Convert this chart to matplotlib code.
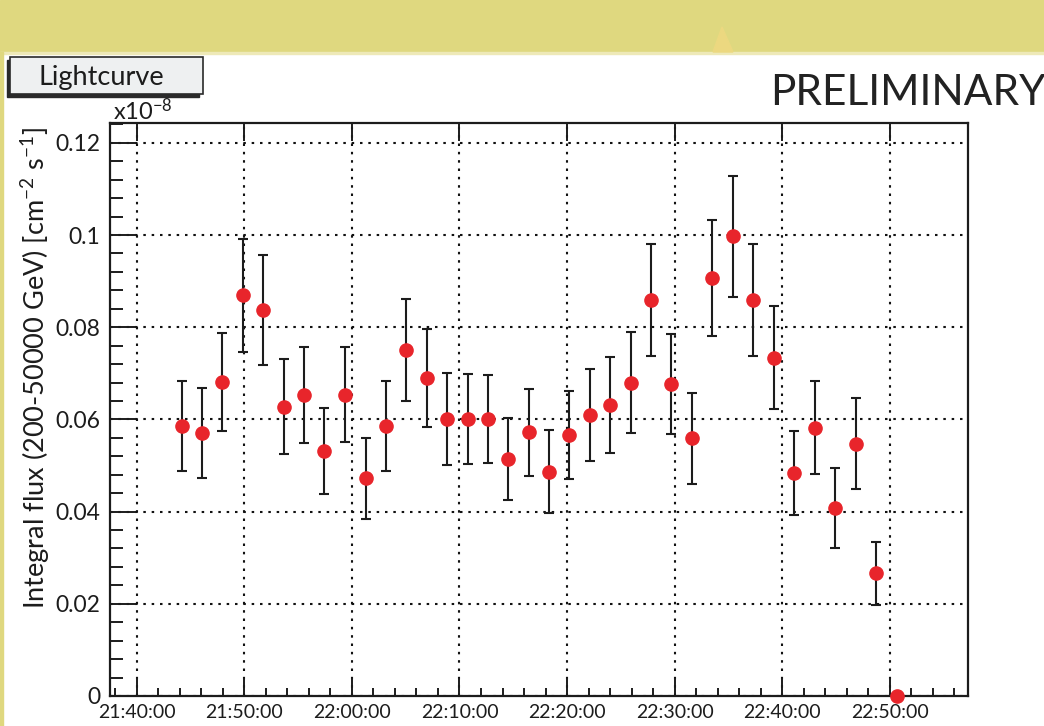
import datetime as dt
import matplotlib
matplotlib.use("Agg")
import matplotlib.pyplot as plt
import matplotlib.dates as mdates
from matplotlib.patches import Rectangle, Polygon
from matplotlib.ticker import MultipleLocator, FuncFormatter

plt.rcParams['font.family'] = ['Lato', 'DejaVu Sans']
plt.rcParams['mathtext.fontset'] = 'custom'
plt.rcParams['mathtext.rm'] = 'Lato'
plt.rcParams['mathtext.it'] = 'Lato:italic'

# observation night (date itself not shown on the chart)
DAY = "2014-01-01"

times = ["21:44:11", "21:46:06", "21:47:57", "21:49:54", "21:51:46", "21:53:40",
         "21:55:33", "21:57:26", "21:59:22", "22:01:17", "22:03:10", "22:05:02",
         "22:06:57", "22:08:52", "22:10:46", "22:12:39", "22:14:32", "22:16:26",
         "22:18:19", "22:20:12", "22:22:08", "22:24:01", "22:25:55", "22:27:48",
         "22:29:41", "22:31:37", "22:33:29", "22:35:23", "22:37:18", "22:39:14",
         "22:41:07", "22:43:01", "22:44:54", "22:46:49", "22:48:43", "22:50:38"]

# integral flux, units of 1e-8 cm^-2 s^-1
flux = [0.0586, 0.0570, 0.0681, 0.0869, 0.0837, 0.0628, 0.0653, 0.0531, 0.0654,
        0.0472, 0.0586, 0.0751, 0.0690, 0.0601, 0.0601, 0.0601, 0.0515, 0.0572,
        0.0487, 0.0566, 0.0610, 0.0631, 0.0680, 0.0859, 0.0677, 0.0559, 0.0907,
        0.0997, 0.0859, 0.0734, 0.0483, 0.0582, 0.0408, 0.0547, 0.0266, 0.0]

flux_err = [0.0098, 0.0098, 0.0107, 0.0123, 0.0120, 0.0103, 0.0104, 0.0093, 0.0104,
            0.0088, 0.0098, 0.0111, 0.0107, 0.0099, 0.0097, 0.0096, 0.0089, 0.0095,
            0.0089, 0.0096, 0.0100, 0.0104, 0.0109, 0.0122, 0.0109, 0.0099, 0.0126,
            0.0132, 0.0121, 0.0112, 0.0091, 0.0101, 0.0086, 0.0099, 0.0069, 0.0]

x_range = ["21:37:31", "22:57:16"]
y_range = [0.0, 0.1243]

W, H = 1044, 726


def t(s):
    return dt.datetime.strptime(DAY + " " + s, "%Y-%m-%d %H:%M:%S")


def fx(px):
    return px / W


def fy(py):
    return 1 - py / H


x = [t(s) for s in times]

fig = plt.figure(figsize=(W / 100, H / 100), dpi=100)
fig.patch.set_facecolor("white")

# yellow slide banner + left strip
fig.add_artist(Rectangle((0, fy(52)), 1, 52 / H, transform=fig.transFigure,
                         color="#dfd87f", zorder=0))
fig.add_artist(Rectangle((0, fy(54)), 1, 2 / H, transform=fig.transFigure,
                         color="#eee9b8", zorder=0))
fig.add_artist(Rectangle((0, 0), fx(3), fy(52), transform=fig.transFigure,
                         color="#dfd87f", zorder=0))
fig.add_artist(Polygon([(fx(713), fy(52)), (fx(722), fy(27)), (fx(733), fy(52))],
                       closed=True, transform=fig.transFigure, color="#ecd880",
                       zorder=0))

ax = fig.add_axes([fx(110), fy(696), fx(968) - fx(110), fy(123) - fy(696)])

ax.errorbar(x, flux, yerr=flux_err, fmt="none", ecolor="#1c1c1c",
            elinewidth=1.5, capsize=3.5, capthick=1.5, zorder=3)
ax.plot(x, flux, "o", color="#e8252b", ms=9.5, mec="#e8252b", zorder=4,
        clip_on=False)

ax.set_xlim(t(x_range[0]), t(x_range[1]))
ax.set_ylim(*y_range)

ax.xaxis.set_major_locator(mdates.MinuteLocator(byminute=range(0, 60, 10)))
ax.xaxis.set_minor_locator(mdates.MinuteLocator(byminute=range(0, 60, 2)))
ax.xaxis.set_major_formatter(mdates.DateFormatter("%H:%M:%S"))
ax.yaxis.set_major_locator(MultipleLocator(0.02))
ax.yaxis.set_minor_locator(MultipleLocator(0.004))
ax.yaxis.set_major_formatter(FuncFormatter(lambda v, p: "%g" % round(v, 4)))

ax.grid(True, which="major", color="#111111", linestyle=(0, (1.2, 2.8)), lw=1.5)
for sp in ax.spines.values():
    sp.set_linewidth(1.6)
    sp.set_color("#1c1c1c")

ax.tick_params(axis="x", which="major", direction="in", length=13, width=1.4,
               top=True, labelsize=14, pad=6, colors="#1c1c1c")
ax.tick_params(axis="x", which="minor", direction="in", length=6, width=1.4,
               top=False, colors="#1c1c1c")
ax.tick_params(axis="y", which="major", direction="in", length=18.5, width=1.4,
               right=False, labelsize=16.5, pad=7, colors="#1c1c1c")
ax.tick_params(axis="y", which="minor", direction="in", length=9.5, width=1.4,
               right=False, colors="#1c1c1c")

ax.text(0.004, 0.998, r"x10$^{-8}$", transform=ax.transAxes, ha="left",
        va="bottom", fontsize=17, color="#1c1c1c")

fig.text(fx(36), fy(127), r"Integral flux (200-50000 GeV) [cm$^{-2}$ s$^{-1}$]",
         rotation=90, ha="center", va="top", fontsize=19.5, color="#1c1c1c")

fig.text(fx(770), fy(105), "PRELIMINARY", ha="left", va="baseline",
         fontsize=30.5, color="#222222")

# title box with shadow
fig.add_artist(Rectangle((fx(7), fy(97)), fx(199) - fx(7), fy(60) - fy(97),
                         transform=fig.transFigure, color="#2a2a2a", zorder=5))
fig.add_artist(Rectangle((fx(10), fy(94)), fx(203) - fx(10), fy(57) - fy(94),
                         transform=fig.transFigure, fc="#eef0f1", ec="#2a2a2a",
                         lw=1.2, zorder=6))
fig.text(fx(101), fy(78), "Lightcurve", ha="center", va="center", fontsize=19.5,
         color="#1c1c1c", zorder=7)

fig.savefig("out.png", dpi=100)
